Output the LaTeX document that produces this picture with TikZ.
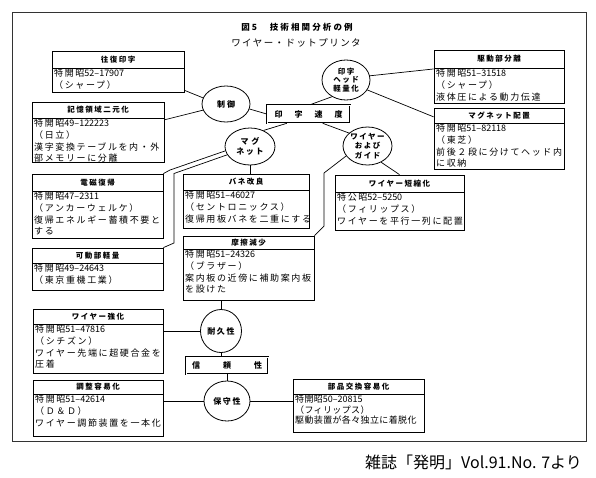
\documentclass[tikz,border=0pt]{standalone}
\usepackage{fontspec}
\setmainfont{Noto Sans CJK JP}
\newfontfamily\jpn{Noto Sans CJK JP}
\newfontfamily\jpbody[LetterSpace=18]{Noto Sans CJK JP}
\newfontfamily\jpsmall[LetterSpace=4]{Noto Sans CJK JP}
\newfontfamily\jphdr[LetterSpace=20]{Noto Sans CJK JP}
\newfontfamily\jptitle[LetterSpace=25]{Noto Sans CJK JP}
\newfontfamily\jpsub[LetterSpace=15]{Noto Sans CJK JP}
\usetikzlibrary{shapes.geometric,fit,calc}
\newcommand\dg[1]{{\jpn #1}}
\tikzset{
  frameline/.style={draw=black!80, line width=0.8pt},
  boxframe/.style={draw, line width=0.8pt, inner sep=0pt},
  divider/.style={line width=0.7pt},
  hdr/.style={font=\jphdr\bfseries\fontsize{7.5}{9}\selectfont, inner sep=0pt},
  bodytxt/.style={font=\jpbody\fontsize{9}{11.7}\selectfont, align=left, inner sep=0pt, anchor=north west},
  oval/.style={draw, ellipse, line width=0.8pt, inner sep=0pt, align=center,
    font=\jphdr\bfseries\fontsize{8}{9.5}\selectfont},
  keybox/.style={draw, double, double distance=1pt, line width=0.6pt, inner sep=0pt,
    font=\bfseries\fontsize{8}{10}\selectfont},
  conn/.style={line width=0.7pt},
}
\newcommand\patbox[9]{%
  \node[boxframe, fit={(#2,#3) (#4,#5)}] (#1) {};
  \draw[divider] (#2,#6) -- (#4,#6);
  \node[hdr] at ({(#2+#4)/2},{(#3+#6)/2}) {#7};
  \node[bodytxt,#9] at ({#2+2},{#6+1}) {#8};
}
\begin{document}
\begin{tikzpicture}[x=1pt,y=-1pt]
\useasboundingbox (0,0) rectangle (596,477);
\draw[frameline] (12,12) rectangle (586,441);
\node[font=\jptitle\bfseries\fontsize{8.5}{10}\selectfont] (title) at (297,27) {図5　技術相関分析の例};
\node[font=\jpsub\fontsize{9.5}{11}\selectfont] (sub) at (296,43) {ワイヤー・ドットプリンタ};

\patbox{b1}{52}{51}{184}{92}{68}{往復印字}{特開昭\dg{52–17907}\\（シャープ）}{}
\patbox{b2}{32}{102}{164}{162}{118}{記憶領域二元化}{特開昭\dg{49–122223}\\（日立）\\漢字変換テーブルを内・外\\部メモリーに分離}{}
\patbox{b3}{32}{174}{163}{238}{191}{電磁復帰}{特開昭\dg{47–2311}\\（アンカーウェルケ）\\復帰エネルギー蓄積不要と\\する}{}
\patbox{b4}{32}{248}{163}{290}{263}{可動部軽量}{特開昭\dg{49–24643}\\（東京重機工業）}{}
\patbox{b5}{183}{174}{309}{228}{190}{バネ改良}{特開昭\dg{51–46027}\\（セントロニックス）\\復帰用板バネを二重にする}{}
\patbox{b6}{183}{236}{314}{300}{249}{摩擦減少}{特開昭\dg{51–24326}\\（ブラザー）\\案内板の近傍に補助案内板\\を設けた}{}
\patbox{b7}{335}{175}{464}{230}{192}{ワイヤー短縮化}{特公昭\dg{52–5250}\\（フィリップス）\\ワイヤーを平行一列に配置}{}
\patbox{b8}{434}{50}{564}{103}{68}{駆動部分離}{特開昭\dg{51–31518}\\（シャープ）\\液体圧による動力伝達}{}
\patbox{b9}{434}{108}{564}{169}{123}{マグネット配置}{特開昭\dg{51–82118}\\（東芝）\\前後２段に分けてヘッド内\\に収納}{}
\patbox{b10}{33}{309}{163}{373}{324}{ワイヤー強化}{特開昭\dg{51–47816}\\（シチズン）\\ワイヤー先端に超硬合金を\\圧着}{}
\patbox{b11}{33}{380}{163}{436}{394}{調整容易化}{特開昭\dg{51–42614}\\（Ｄ＆Ｄ）\\ワイヤー調節装置を一本化}{}
\patbox{b12}{293}{379}{424}{432}{394}{部品交換容易化}{特開昭\dg{50–20815}\\（フィリップス）\\駆動装置が各々独立に着脱化}{font=\jpsmall\fontsize{9}{10.3}\selectfont}

\node[oval, minimum width=48pt, minimum height=36pt] (seigyo) at (226,104) {制\hspace{2pt}御};
\node[oval, minimum width=48pt, minimum height=40pt, font=\jphdr\bfseries\fontsize{7.5}{8.5}\selectfont] (head) at (346,80) {印字\\ヘッド\\軽量化};
\node[oval, minimum width=50pt, minimum height=37pt, font=\jphdr\bfseries\fontsize{8}{10}\selectfont] (magnet) at (250,146.5) {マ\hspace{3pt}グ\\ネット};
\node[oval, minimum width=49pt, minimum height=38pt, font=\jphdr\bfseries\fontsize{7.5}{9.5}\selectfont] (wire) at (367.5,146) {ワイヤー\\および\\ガイド};
\node[oval, minimum width=41pt, minimum height=43pt] (taikyu) at (221,331) {耐久性};
\node[oval, minimum width=46pt, minimum height=40pt] (hoshu) at (227,401) {保守性};

\node[keybox, minimum width=83pt, minimum height=18pt] (insoku) at (308.5,114) {\makebox[68pt]{印\hfill 字\hfill 速\hfill 度}};
\node[keybox, minimum width=82pt, minimum height=17pt] (shinrai) at (227,365.5) {\makebox[70pt]{信\hfill 頼\hfill 性}};

\coordinate (m1) at (170,170);
\coordinate (m2) at (174,173.5);
\coordinate (m3) at (174,243);
\coordinate (w1) at (324,173);
\coordinate (w2) at (324,226);

\draw[conn] ($(b1.south east)!0.05!(b1.north east)$) -- (seigyo.165);
\draw[conn] ($(b2.north east)!0.3!(b2.south east)$) -- (seigyo.195);
\draw[conn] (seigyo.-12) -- (insoku.west);
\draw[conn] (head.230) -- ($(insoku.north west)!0.52!(insoku.north east)$);
\draw[conn] (head.10) -- ($(b8.north west)!0.36!(b8.south west)$);
\draw[conn] (head.-25) -- ($(b9.north west)!0.15!(b9.south west)$);
\draw[conn] ($(insoku.south west)!0.24!(insoku.south east)$) -- (magnet.50);
\draw[conn] ($(insoku.south west)!0.67!(insoku.south east)$) -- (wire.145);
\draw[conn] (magnet.190) -- (m1) -- (b3.north east);
\draw[conn] (magnet.200) -- (m2) -- (m3) -- (b4.north east);
\draw[conn] (magnet.south) -- (magnet.south |- b5.north);
\draw[conn] (wire.205) -- (w1) -- (w2) -- (b6.north east);
\draw[conn] (wire.-50) -- ($(b7.north west)!0.5!(b7.north east)$);
\draw[conn] (taikyu.north) -- (taikyu.north |- b6.south);
\draw[conn] (taikyu.west) -- (taikyu.west -| b10.east);
\draw[conn] (taikyu.south) -- (taikyu.south |- shinrai.north);
\draw[conn] (hoshu.north) -- (hoshu.north |- shinrai.south);
\draw[conn] (hoshu.west) -- (hoshu.west -| b11.east);
\draw[conn] (hoshu.east) -- (hoshu.east -| b12.west);

\node[font=\jpn\fontsize{16}{18}\selectfont, anchor=west, inner sep=0pt] (src) at (365,462) {雑誌「発明」Vol.91.No. 7より};
\end{tikzpicture}
\end{document}
